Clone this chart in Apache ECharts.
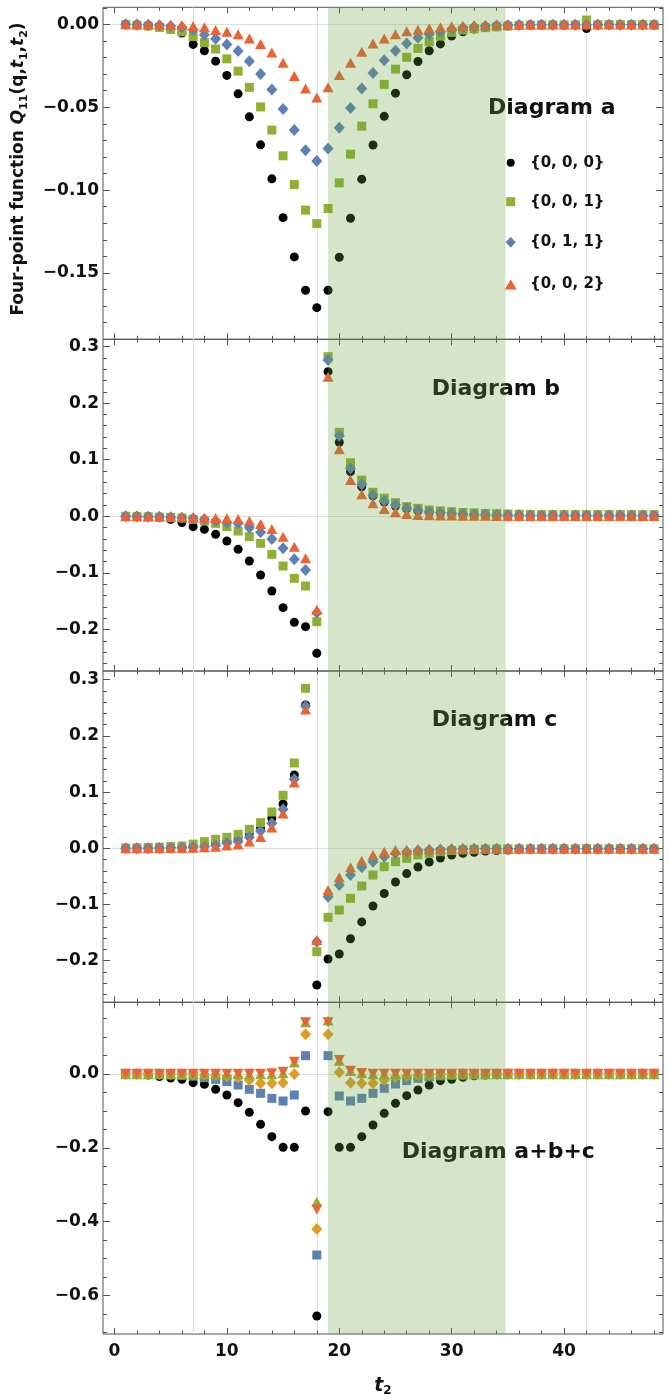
<!DOCTYPE html>
<html><head><meta charset="utf-8">
<script src="https://cdn.jsdelivr.net/npm/echarts@6/dist/echarts.min.js"></script>
<style>html,body{margin:0;padding:0;background:#fff}#c{width:669px;height:1399px}</style>
</head><body><div id="c"></div>
<script>
// ---------------- data ----------------
const T2 = [1,2,3,4,5,6,7,8,9,10,11,12,13,14,15,16,17,18,19,20,21,22,23,24,25,26,27,28,29,30,31,32,33,34,35,36,37,38,39,40,41,42,43,44,45,46,47,48];

// Diagram a
const A_000 = [0,-0.0003,-0.0008,-0.0015,-0.0028,-0.0052,-0.0121,-0.0159,-0.0222,-0.0308,
  -0.0419,-0.0558,-0.0727,-0.0932,-0.1166,-0.1403,-0.1604,-0.1709,-0.1604,-0.1405,
  -0.1170,-0.0934,-0.0728,-0.0555,-0.0415,-0.0304,-0.0224,-0.0159,-0.0118,-0.0070,
  -0.0045,-0.0028,-0.0017,-0.0010,-0.0006,-0.0004,-0.0003,-0.0002,-0.0002,-0.0002,
  -0.0002,-0.0025,-0.0002,-0.0001,-0.0001,-0.0001,-0.0001,-0.0001];
const A_001 = [-0.0002,-0.0005,-0.0010,-0.0018,-0.0030,-0.0045,-0.0073,-0.0110,-0.0149,-0.0208,
  -0.0282,-0.0380,-0.0498,-0.0638,-0.0793,-0.0966,-0.1121,-0.1202,-0.1111,-0.0956,
  -0.0783,-0.0614,-0.0479,-0.0362,-0.0270,-0.0199,-0.0145,-0.0105,-0.0071,-0.0048,
  -0.0034,-0.0026,-0.0020,-0.0015,-0.0010,-0.0007,-0.0005,-0.0004,-0.0003,-0.0003,
  -0.0003,0.0026,-0.0002,-0.0002,-0.0002,-0.0002,-0.0002,-0.0002];
const A_011 = [0,-0.0001,-0.0002,-0.0005,-0.0010,-0.0018,-0.0034,-0.0062,-0.0087,-0.0121,
  -0.0161,-0.0222,-0.0300,-0.0393,-0.0511,-0.0638,-0.0759,-0.0824,-0.0749,-0.0624,
  -0.0504,-0.0387,-0.0294,-0.0216,-0.0159,-0.0115,-0.0081,-0.0060,-0.0044,-0.0030,
  -0.0020,-0.0014,-0.0010,-0.0007,-0.0005,-0.0004,-0.0003,-0.0003,-0.0002,-0.0002,
  -0.0002,-0.0002,-0.0002,-0.0002,-0.0002,-0.0002,-0.0002,-0.0002];
const A_002 = [0,0,0,-0.0001,-0.0002,-0.0004,-0.0010,-0.0017,-0.0034,-0.0044,
  -0.0060,-0.0085,-0.0119,-0.0169,-0.0232,-0.0312,-0.0387,-0.0441,-0.0380,-0.0306,
  -0.0232,-0.0165,-0.0115,-0.0085,-0.0060,-0.0041,-0.0033,-0.0024,-0.0017,-0.0012,
  -0.0008,-0.0005,-0.0004,-0.0003,-0.0002,-0.0002,-0.0001,-0.0001,-0.0001,-0.0001,
  -0.0001,-0.0001,-0.0001,-0.0001,-0.0001,-0.0001,-0.0001,-0.0001];

// Diagram b
const B_000 = [0,0,-0.0005,-0.0020,-0.0055,-0.0110,-0.0183,-0.0230,-0.0319,-0.0436,
  -0.0584,-0.0790,-0.1037,-0.1320,-0.1614,-0.1873,-0.1950,-0.2420,0.2555,0.1307,
  0.0789,0.0520,0.0360,0.0250,0.0180,0.0130,0.0095,0.0070,0.0052,0.0040,
  0.0030,0.0022,0.0016,0.0012,0.0010,0.0008,0.0007,0.0006,0.0006,0.0005,
  0.0005,0.0005,0.0005,0.0005,0.0005,0.0005,0.0005,0.0005];
const B_001 = [0,-0.0005,-0.0010,-0.0015,-0.0020,-0.0030,-0.0053,-0.0083,-0.0124,-0.0183,
  -0.0260,-0.0360,-0.0478,-0.0672,-0.0878,-0.1096,-0.1232,-0.1862,0.2820,0.1484,
  0.0947,0.0641,0.0424,0.0320,0.0240,0.0170,0.0141,0.0111,0.0094,0.0080,
  0.0068,0.0060,0.0052,0.0046,0.0040,0.0036,0.0033,0.0030,0.0030,0.0030,
  0.0030,0.0030,0.0030,0.0030,0.0030,0.0030,0.0030,0.0030];
const B_011 = [0,-0.0003,-0.0006,-0.0010,-0.0015,-0.0025,-0.0035,-0.0050,-0.0083,-0.0110,
  -0.0124,-0.0201,-0.0283,-0.0401,-0.0566,-0.0760,-0.0949,-0.1703,0.2762,0.1425,
  0.0848,0.0565,0.0376,0.0270,0.0200,0.0141,0.0111,0.0082,0.0065,0.0050,
  0.0040,0.0032,0.0026,0.0022,0.0020,0.0018,0.0016,0.0015,0.0015,0.0015,
  0.0015,0.0015,0.0015,0.0015,0.0015,0.0015,0.0015,0.0015];
const B_002 = [0,0,-0.0002,-0.0005,-0.0008,-0.0012,-0.0020,-0.0025,-0.0030,-0.0036,
  -0.0048,-0.0083,-0.0136,-0.0224,-0.0360,-0.0537,-0.0742,-0.1650,0.2467,0.1184,
  0.0641,0.0389,0.0230,0.0129,0.0070,0.0040,0.0025,0.0020,0.0015,0.0012,
  0.0010,0.0009,0.0008,0.0007,0.0006,0.0006,0.0006,0.0006,0.0006,0.0006,
  0.0006,0.0006,0.0006,0.0006,0.0006,0.0006,0.0006,0.0006];

// Diagram c
const C_000 = [0,0,0.0003,0.0006,0.0010,0.0020,0.0040,0.0060,0.0090,0.0130,
  0.0190,0.0270,0.0370,0.0534,0.0788,0.1304,0.2550,-0.2433,-0.1970,-0.1880,
  -0.1610,-0.1310,-0.1027,-0.0804,-0.0600,-0.0450,-0.0333,-0.0244,-0.0172,-0.0119,
  -0.0090,-0.0070,-0.0050,-0.0040,-0.0030,-0.0020,-0.0015,-0.0010,-0.0008,-0.0006,
  -0.0006,-0.0006,-0.0006,-0.0006,-0.0006,-0.0006,-0.0006,-0.0006];
const C_001 = [0.0005,0.0010,0.0015,0.0020,0.0030,0.0040,0.0075,0.0118,0.0160,0.0196,
  0.0249,0.0338,0.0456,0.0646,0.0943,0.1518,0.2847,-0.1840,-0.1228,-0.1098,
  -0.0890,-0.0671,-0.0475,-0.0327,-0.0238,-0.0178,-0.0119,-0.0090,-0.0060,-0.0040,
  -0.0028,-0.0020,-0.0015,-0.0012,-0.0010,-0.0008,-0.0008,-0.0008,-0.0008,-0.0008,
  -0.0008,-0.0008,-0.0008,-0.0008,-0.0008,-0.0008,-0.0008,-0.0008];
const C_011 = [0,0,0.0003,0.0005,0.0010,0.0015,0.0020,0.0030,0.0050,0.0090,
  0.0120,0.0196,0.0308,0.0445,0.0694,0.1228,0.2532,-0.1661,-0.0860,-0.0653,
  -0.0475,-0.0338,-0.0238,-0.0149,-0.0090,-0.0060,-0.0040,-0.0030,-0.0020,-0.0015,
  -0.0012,-0.0010,-0.0008,-0.0008,-0.0008,-0.0008,-0.0008,-0.0008,-0.0008,-0.0008,
  -0.0008,-0.0008,-0.0008,-0.0008,-0.0008,-0.0008,-0.0008,-0.0008];
const C_002 = [0,0,0,0.0002,0.0004,0.0006,0.0010,0.0020,0.0030,0.0050,
  0.0070,0.0120,0.0200,0.0370,0.0620,0.1170,0.2470,-0.1630,-0.0742,-0.0516,
  -0.0338,-0.0220,-0.0119,-0.0060,-0.0030,-0.0025,-0.0020,-0.0015,-0.0012,-0.0010,
  -0.0006,-0.0006,-0.0006,-0.0006,-0.0006,-0.0006,-0.0006,-0.0006,-0.0006,-0.0006,
  -0.0006,-0.0006,-0.0006,-0.0006,-0.0006,-0.0006,-0.0006,-0.0006];

// Diagram a+b+c
const D_000 = [0,0,-0.0030,-0.0070,-0.0110,-0.0144,-0.0235,-0.0280,-0.0416,-0.0569,
  -0.0777,-0.1039,-0.1364,-0.1698,-0.1987,-0.1987,-0.1003,-0.6558,-0.1021,-0.1987,
  -0.1987,-0.1699,-0.1382,-0.1066,-0.0795,-0.0587,-0.0434,-0.0300,-0.0180,-0.0145,
  -0.0090,-0.0050,-0.0030,-0.0015,-0.0010,-0.0005,-0.0003,-0.0003,-0.0003,-0.0003,
  -0.0003,-0.0003,-0.0003,-0.0003,-0.0003,-0.0003,-0.0003,-0.0003];
const D_001 = [0,0,-0.0005,-0.0010,-0.0020,-0.0035,-0.0060,-0.0100,-0.0144,-0.0208,
  -0.0298,-0.0416,-0.0524,-0.0660,-0.0732,-0.0569,0.0497,-0.4905,0.0497,-0.0596,
  -0.0732,-0.0660,-0.0524,-0.0388,-0.0271,-0.0180,-0.0117,-0.0080,-0.0050,-0.0030,
  -0.0025,-0.0015,-0.0010,-0.0006,-0.0004,-0.0004,-0.0004,-0.0004,-0.0004,-0.0004,
  -0.0004,-0.0004,-0.0004,-0.0004,-0.0004,-0.0004,-0.0004,-0.0004];
const D_011 = [0,0,0,0,-0.0005,-0.0010,-0.0015,-0.0020,-0.0030,-0.0060,
  -0.0090,-0.0163,-0.0253,-0.0253,-0.0235,0.0000,0.1075,-0.4200,0.1075,0.0045,
  -0.0235,-0.0253,-0.0253,-0.0163,-0.0090,-0.0060,-0.0030,-0.0020,-0.0010,-0.0005,
  0,0,0,0,0,0,0,0,0,0,
  0,0,0,0,0,0,0,0];
const D_XTRA = [-0.001,-0.001,-0.001,-0.001,-0.001,-0.001,-0.001,-0.001,-0.001,-0.001,
  -0.001,-0.001,-0.001,-0.001,0.0020,0.0310,0.1400,-0.3460,0.1450,0.0360,
  0.0080,0.0020,-0.001,-0.001,-0.001,-0.001,-0.001,-0.001,-0.001,-0.001,
  -0.001,-0.001,-0.001,-0.001,-0.001,-0.001,-0.001,-0.001,-0.001,-0.001,
  -0.001,-0.001,-0.001,-0.001,-0.001,-0.001,-0.001,-0.001];
const D_002 = [0.001,0.001,0.001,0.001,0.001,0.001,0.001,0.001,0.001,0.001,
  0.001,0.001,0.001,0.0020,0.0060,0.0334,0.1400,-0.3670,0.1400,0.0380,
  0.0090,0.0030,0.001,0.001,0.001,0.001,0.001,0.001,0.001,0.001,
  0.001,0.001,0.001,0.001,0.001,0.001,0.001,0.001,0.001,0.001,
  0.001,0.001,0.001,0.001,0.001,0.001,0.001,0.001];

const LEGEND_NAMES = ['{0, 0, 0}','{0, 0, 1}','{0, 1, 1}','{0, 0, 2}'];
const PANEL_LABELS = ['Diagram a','Diagram b','Diagram c','Diagram a+b+c'];
const X_MAJOR = [0,10,20,30,40];
const X_MINOR = [2,4,6,8,12,14,16,18,22,24,26,28,32,34,36,38,42,44,46,48];
const X_GRIDLINES = [7,18,42];
const Y_MAJOR_A = [-0.15,-0.10,-0.05,0];
const Y_MAJOR_BC = [-0.2,-0.1,0,0.1,0.2,0.3];
const Y_MAJOR_D = [-0.6,-0.4,-0.2,0];
const SHADE_RANGE = [19, 34.8];

// ---------------- styles / layout ----------------
const FONT = 'DejaVu Sans';
const FRAME = '#555555';
const GRIDC = '#dedede';
const STY = {
  k: {symbol:'circle', size:9, color:'#000000'},
  g: {symbol:'rect', size:9, color:'#8FB032'},
  b: {symbol:'diamond', size:[11,12], color:'#5E81B5'},
  o: {symbol:'triangle', size:[11,10], color:'#EB6235'},
  sq: {symbol:'rect', size:9, color:'#5E81B5'},
  gd: {symbol:'diamond', size:[11,12], color:'#E19C24'},
  gt: {symbol:'triangle', size:[11,10], color:'#8FB032'},
  rt: {symbol:'triangle', size:[11,10], color:'#EB6235', rotate:180}
};
const X_MIN = -1.02, X_MAX = 48.8;
const GL = 103, GW = 560;

function minorTicks(min, max, step, majorStep) {
  const out = [];
  for (let k = Math.ceil(min / step - 1e-9); k * step <= max + 1e-9; k++) {
    const v = +(k * step).toFixed(6);
    const r = v / majorStep;
    if (Math.abs(r - Math.round(r)) > 1e-6) out.push(v);
  }
  return out;
}

const panels = [
  {top:7.3, h:332, yMin:-0.19, yMax:0.0103, major:Y_MAJOR_A, minorStep:0.01, majorStep:0.05, dec:2,
   label:PANEL_LABELS[0], lx:488, ly:108,
   series:[[LEGEND_NAMES[0],A_000,'k'],[LEGEND_NAMES[1],A_001,'g'],[LEGEND_NAMES[2],A_011,'b'],[LEGEND_NAMES[3],A_002,'o']]},
  {top:339.3, h:331.7, yMin:-0.2733, yMax:0.3127, major:Y_MAJOR_BC, minorStep:0.02, majorStep:0.1, dec:1,
   label:PANEL_LABELS[1], lx:431.7, ly:389,
   series:[[LEGEND_NAMES[0],B_000,'k'],[LEGEND_NAMES[1],B_001,'g'],[LEGEND_NAMES[2],B_011,'b'],[LEGEND_NAMES[3],B_002,'o']]},
  {top:671, h:331.3, yMin:-0.274, yMax:0.3155, major:Y_MAJOR_BC, minorStep:0.02, majorStep:0.1, dec:1,
   label:PANEL_LABELS[2], lx:431.7, ly:720.7,
   series:[[LEGEND_NAMES[0],C_000,'k'],[LEGEND_NAMES[1],C_001,'g'],[LEGEND_NAMES[2],C_011,'b'],[LEGEND_NAMES[3],C_002,'o']]},
  {top:1002.3, h:331.7, yMin:-0.7046, yMax:0.1943, major:Y_MAJOR_D, minorStep:0.05, majorStep:0.2, dec:1,
   label:PANEL_LABELS[3], lx:401.7, ly:1152.3,
   series:[['abc {0, 0, 0}',D_000,'k'],['abc {0, 0, 1}',D_001,'sq'],['abc {0, 1, 1}',D_011,'gd'],['abc extra',D_XTRA,'gt'],['abc {0, 0, 2}',D_002,'rt']]}
];

const grid = [], xAxis = [], yAxis = [], series = [], graphic = [];
const labelStyle = {fontFamily:FONT, fontWeight:'bold', fontSize:17, color:'#111'};
const fmtY = dec => v => (v < -1e-9 ? '\u2212' : '') + Math.abs(v).toFixed(dec);

panels.forEach((p, g) => {
  grid.push({left:GL, top:p.top, width:GW, height:p.h, show:true, borderColor:FRAME, borderWidth:1,
             backgroundColor:'transparent', containLabel:false, outerBoundsMode:'none'});
  const xBase = {gridIndex:g, type:'value', min:X_MIN, max:X_MAX, axisLine:{show:false, onZero:false},
                 splitLine:{show:false}, axisLabel:{show:false}};
  const tickX = (vals, len, pos, labels) => Object.assign({}, xBase, {
    position:pos,
    axisTick:{show:true, inside:true, length:len, customValues:vals, lineStyle:{color:FRAME, width:1}},
    axisLabel: labels ? Object.assign({show:true, customValues:vals, margin:9}, labelStyle) : {show:false}
  });
  xAxis.push(tickX(X_MAJOR, 6, 'bottom', g === 3));
  xAxis.push(tickX(X_MINOR, 3.5, 'bottom', false));
  xAxis.push(tickX(X_MAJOR, 6, 'top', false));
  xAxis.push(tickX(X_MINOR, 3.5, 'top', false));
  xAxis.push(Object.assign({}, xBase, {position:'bottom',
    axisTick:{show:false, customValues:X_GRIDLINES},
    splitLine:{show:true, lineStyle:{color:GRIDC, width:1}}}));

  const yMinor = minorTicks(p.yMin, p.yMax, p.minorStep, p.majorStep);
  const yBase = {gridIndex:g, type:'value', min:p.yMin, max:p.yMax, axisLine:{show:false, onZero:false},
                 splitLine:{show:false}, axisLabel:{show:false}};
  const tickY = (vals, len, pos, labels) => Object.assign({}, yBase, {
    position:pos,
    axisTick:{show:true, inside:true, length:len, customValues:vals, lineStyle:{color:FRAME, width:1}},
    axisLabel: labels ? Object.assign({show:true, customValues:vals, margin:4, formatter:fmtY(p.dec)}, labelStyle) : {show:false}
  });
  yAxis.push(tickY(p.major, 7, 'left', true));
  yAxis.push(tickY(yMinor, 4, 'left', false));
  yAxis.push(tickY(p.major, 7, 'right', false));
  yAxis.push(tickY(yMinor, 4, 'right', false));
  yAxis.push(Object.assign({}, yBase, {position:'left',
    axisTick:{show:false, customValues:[0]},
    splitLine:{show:true, lineStyle:{color:GRIDC, width:1}}}));

  p.series.forEach(([name, vals, sk]) => {
    const s = STY[sk];
    series.push({
      type:'scatter', name, xAxisIndex:g*5, yAxisIndex:g*5, z:2,
      symbol:s.symbol, symbolSize:s.size, symbolRotate:s.rotate || 0,
      itemStyle:{color:s.color, opacity:1}, silent:true,
      data:T2.map((t, i) => [t, vals[i]])
    });
  });

  series.push({
    type:'custom', name:'shade' + g, xAxisIndex:g*5, yAxisIndex:g*5, z:10, silent:true, clip:false,
    data:[SHADE_RANGE],
    encode:{x:[0,1]},
    renderItem:(params, api) => {
      const cs = params.coordSys;
      const x0 = api.coord([api.value(0), p.yMin])[0];
      const x1 = api.coord([api.value(1), p.yMin])[0];
      return {type:'rect', shape:{x:x0, y:cs.y, width:x1 - x0, height:cs.height},
              style:{fill:'rgba(104,160,60,0.28)'}};
    }
  });

  graphic.push({type:'text', z:1, x:p.lx, y:p.ly,
    style:{text:p.label, font:'bold 22px "DejaVu Sans"', fill:'#111', align:'left', verticalAlign:'middle'}});
});

// y-axis title
graphic.push({type:'text', z:1, x:19, y:169, rotation:Math.PI/2,
  style:{
    text:'{b|Four-point function }{i|Q}{s|11}{b|(q,}{i|t}{s|1}{b|,}{i|t}{s|2}{b|)}',
    align:'center', verticalAlign:'middle',
    rich:{
      b:{fontFamily:FONT, fontWeight:'bold', fontSize:17, lineHeight:22, fill:'#111', verticalAlign:'middle'},
      i:{fontFamily:FONT, fontWeight:'bold', fontStyle:'italic', fontSize:17, lineHeight:22, fill:'#111', verticalAlign:'middle'},
      s:{fontFamily:FONT, fontWeight:'bold', fontSize:11, lineHeight:14, fill:'#111', verticalAlign:'bottom'}
    }
  }});
// x-axis title
graphic.push({type:'text', z:1, x:383, y:1386,
  style:{
    text:'{i|t}{s|2}', align:'center', verticalAlign:'middle',
    rich:{
      i:{fontFamily:FONT, fontWeight:'bold', fontStyle:'italic', fontSize:19, lineHeight:22, fill:'#111', verticalAlign:'middle'},
      s:{fontFamily:FONT, fontWeight:'bold', fontSize:12, lineHeight:14, fill:'#111', verticalAlign:'bottom'}
    }
  }});

// legend (one per entry so each icon can have its own size)
const legendIcons = [
  {icon:'circle', w:8, h:8, cy:162.7},
  {icon:'rect', w:9, h:9, cy:201.7},
  {icon:'diamond', w:10, h:11, cy:242.2},
  {icon:'triangle', w:12, h:10, cy:284.5}
];
const legend = legendIcons.map((it, i) => ({
  data:[{name:LEGEND_NAMES[i], icon:it.icon}],
  orient:'vertical', padding:0, selectedMode:false,
  left:510.7 - it.w / 2, top:it.cy - 10,
  itemWidth:it.w, itemHeight:it.h,
  textStyle:{fontFamily:FONT, fontWeight:'bold', fontSize:15, color:'#111', lineHeight:20,
             padding:[0,0,0,14.3 - it.w / 2]}
}));

const chart = echarts.init(document.getElementById('c'), null, {renderer:'canvas'});
chart.setOption({
  animation:false,
  backgroundColor:'#ffffff',
  textStyle:{fontFamily:FONT},
  grid, xAxis, yAxis, series, legend, graphic
});
</script>
</body></html>
